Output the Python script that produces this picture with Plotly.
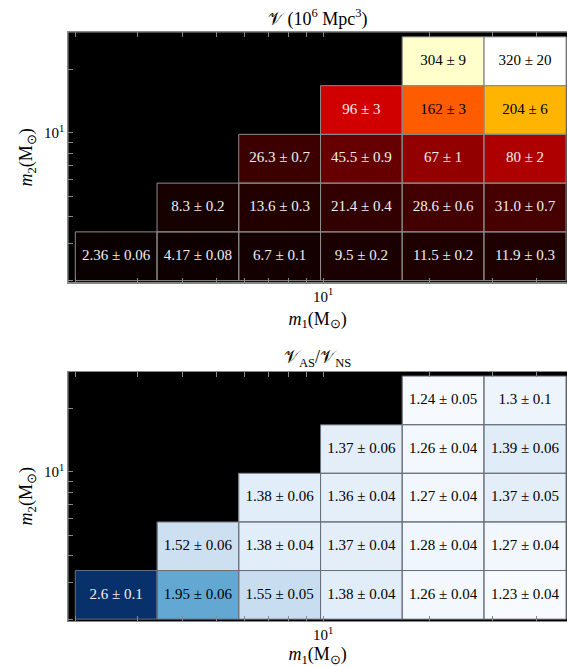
import math
import plotly.graph_objects as go

# ---------------- data ----------------
bin_edges = [2.0, 3.40, 5.78, 9.83, 16.7, 28.4, 48.4]   # log-spaced mass bins (Msun)

vol_values = [
    [2.36, 4.17, 6.7, 9.5, 11.5, 11.9],
    [None, 8.3, 13.6, 21.4, 28.6, 31.0],
    [None, None, 26.3, 45.5, 67, 80],
    [None, None, None, 96, 162, 204],
    [None, None, None, None, 304, 320],
]
vol_labels = [
    ["2.36 ± 0.06", "4.17 ± 0.08", "6.7 ± 0.1", "9.5 ± 0.2", "11.5 ± 0.2", "11.9 ± 0.3"],
    [None, "8.3 ± 0.2", "13.6 ± 0.3", "21.4 ± 0.4", "28.6 ± 0.6", "31.0 ± 0.7"],
    [None, None, "26.3 ± 0.7", "45.5 ± 0.9", "67 ± 1", "80 ± 2"],
    [None, None, None, "96 ± 3", "162 ± 3", "204 ± 6"],
    [None, None, None, None, "304 ± 9", "320 ± 20"],
]
ratio_values = [
    [2.6, 1.95, 1.55, 1.38, 1.26, 1.23],
    [None, 1.52, 1.38, 1.37, 1.28, 1.27],
    [None, None, 1.38, 1.36, 1.27, 1.37],
    [None, None, None, 1.37, 1.26, 1.39],
    [None, None, None, None, 1.24, 1.3],
]
ratio_labels = [
    ["2.6 ± 0.1", "1.95 ± 0.06", "1.55 ± 0.05", "1.38 ± 0.04", "1.26 ± 0.04", "1.23 ± 0.04"],
    [None, "1.52 ± 0.06", "1.38 ± 0.04", "1.37 ± 0.04", "1.28 ± 0.04", "1.27 ± 0.04"],
    [None, None, "1.38 ± 0.06", "1.36 ± 0.04", "1.27 ± 0.04", "1.37 ± 0.05"],
    [None, None, None, "1.37 ± 0.06", "1.26 ± 0.04", "1.39 ± 0.06"],
    [None, None, None, None, "1.24 ± 0.05", "1.3 ± 0.1"],
]
tick_values = [2, 3, 4, 5, 6, 7, 8, 9, 10, 20, 30, 40]
tick_labels = ["", "", "", "", "", "", "", "", "10<sup>1</sup>", "", "", ""]

# ---------------- styles ----------------
hot_scale = [[0.0, "rgb(11,0,0)"], [0.365079, "rgb(255,0,0)"],
             [0.746032, "rgb(255,255,0)"], [1.0, "rgb(255,255,255)"]]
blues_hex = ["#f7fbff", "#deebf7", "#c6dbef", "#9ecae1", "#6baed6",
             "#4292c6", "#2171b5", "#08519c", "#08306b"]
blues_scale = [[i / 8, c] for i, c in enumerate(blues_hex)]

FONT = "Liberation Serif"
W, H = 567, 667
X_RANGE = [math.log10(1.911), math.log10(48.7)]
Y_RANGE = [math.log10(1.96), math.log10(29.85)]
x_dom = [68.3 / W, 1.0]
top_dom = [1 - 282.5 / H, 1 - 32.3 / H]
bot_dom = [1 - 621.0 / H, 1 - 371.5 / H]


def to_rgb(c):
    if c.startswith("#"):
        return tuple(int(c[i:i + 2], 16) for i in (1, 3, 5))
    return tuple(int(v) for v in c[4:-1].split(","))


def interp_color(scale, t):
    t = min(max(t, 0), 1)
    for (t0, c0), (t1, c1) in zip(scale[:-1], scale[1:]):
        if t0 <= t <= t1:
            f = (t - t0) / (t1 - t0) if t1 > t0 else 0
            r0, r1 = to_rgb(c0), to_rgb(c1)
            return tuple(r0[k] + f * (r1[k] - r0[k]) for k in range(3))
    return (0, 0, 0)


def panel_traces(values, labels, scale, edge_color, xa, ya):
    flat = [v for row in values for v in row if v is not None]
    zmin, zmax = min(flat), max(flat)
    traces = [go.Heatmap(z=values, x=bin_edges, y=bin_edges[:len(values) + 1],
                         colorscale=scale, zmin=zmin, zmax=zmax, showscale=False,
                         hoverinfo="skip", xaxis=xa, yaxis=ya)]
    bx, by, tx, ty, tt, tc = [], [], [], [], [], []
    for j, row in enumerate(values):
        for i, v in enumerate(row):
            if v is None:
                continue
            x0, x1 = bin_edges[i], bin_edges[i + 1]
            y0, y1 = bin_edges[j], bin_edges[j + 1]
            bx += [x0, x1, x1, x0, x0, None]
            by += [y0, y0, y1, y1, y0, None]
            tx.append(math.sqrt(x0 * x1))
            ty.append(math.sqrt(y0 * y1))
            tt.append(labels[j][i])
            r, g, b = interp_color(scale, (v - zmin) / (zmax - zmin))
            lum = (0.299 * r + 0.587 * g + 0.114 * b)
            tc.append("#000000" if lum > 120 else "#f0f0f0")
    traces.append(go.Scatter(x=bx, y=by, mode="lines", line=dict(color=edge_color, width=1),
                             hoverinfo="skip", showlegend=False, xaxis=xa, yaxis=ya))
    traces.append(go.Scatter(x=tx, y=ty, mode="text", text=tt,
                             textfont=dict(family=FONT, size=15, color=tc),
                             hoverinfo="skip", showlegend=False, xaxis=xa, yaxis=ya))
    return traces


fig = go.Figure()
for t in panel_traces(vol_values, vol_labels, hot_scale, "#8c8c8c", "x", "y"):
    fig.add_trace(t)
for t in panel_traces(ratio_values, ratio_labels, blues_scale, "#6a707a", "x2", "y2"):
    fig.add_trace(t)

axis_common = dict(type="log", showgrid=False, zeroline=False, ticks="inside", ticklen=5,
                   tickcolor="#888888", tickwidth=1, showline=True, linecolor="#888888",
                   linewidth=1, tickvals=tick_values, ticktext=tick_labels,
                   tickfont=dict(family=FONT, size=15, color="black"))
xtitle = dict(text="<i>m</i><sub>1</sub>(M<sub>⊙</sub>)", font=dict(family=FONT, size=18, color="black"), standoff=8)
ytitle = dict(text="<i>m</i><sub>2</sub>(M<sub>⊙</sub>)", font=dict(family=FONT, size=18, color="black"), standoff=6)

fig.update_layout(
    width=W, height=H, margin=dict(l=0, r=0, t=0, b=0),
    paper_bgcolor="white", plot_bgcolor="black", showlegend=False,
    xaxis=dict(axis_common, domain=x_dom, range=X_RANGE, anchor="y", mirror="ticks", title=xtitle),
    yaxis=dict(axis_common, domain=top_dom, range=Y_RANGE, anchor="x", title=ytitle),
    xaxis2=dict(axis_common, domain=x_dom, range=X_RANGE, anchor="y2", mirror="ticks", title=xtitle),
    yaxis2=dict(axis_common, domain=bot_dom, range=Y_RANGE, anchor="x2", title=ytitle),
    annotations=[
        dict(text="𝒱 (10<sup>6</sup> Mpc<sup>3</sup>)", xref="paper", yref="paper",
             x=(x_dom[0] + 1) / 2, y=top_dom[1], yanchor="bottom", yshift=0, showarrow=False,
             font=dict(family=FONT, size=18, color="black")),
        dict(text="𝒱<sub>AS</sub>/𝒱<sub>NS</sub>", xref="paper", yref="paper",
             x=(x_dom[0] + 1) / 2, y=bot_dom[1], yanchor="bottom", yshift=0, showarrow=False,
             font=dict(family=FONT, size=18, color="black")),
    ],
)

fig.write_html("out.html", config={"displayModeBar": False},
               post_script="document.body.style.margin='0';document.body.style.overflow='hidden';")
